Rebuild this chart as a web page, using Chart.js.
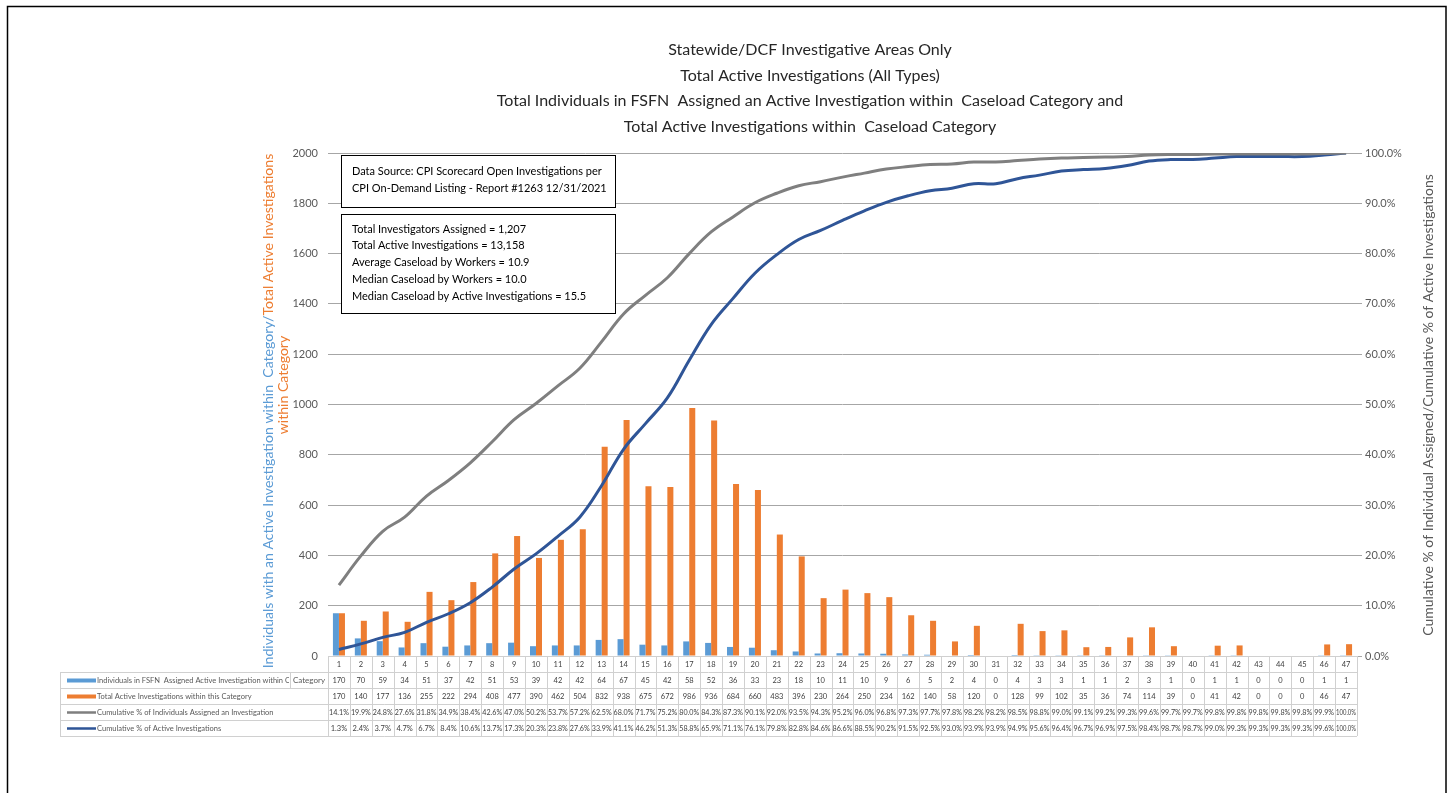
<!DOCTYPE html>
<html>
<head>
<meta charset="utf-8">
<script src="https://cdn.jsdelivr.net/npm/chart.js@4"></script>
<style>
  html, body { margin: 0; padding: 0; background: #fff; }
  #wrap { width: 1450px; height: 793px; }
</style>
</head>
<body>
<div id="wrap"><canvas id="caseChart" width="1450" height="793"></canvas></div>
<script>
const categories = [1,2,3,4,5,6,7,8,9,10,11,12,13,14,15,16,17,18,19,20,21,22,23,24,25,26,27,28,29,30,31,32,33,34,35,36,37,38,39,40,41,42,43,44,45,46,47];
const individuals = [170,70,59,34,51,37,42,51,53,39,42,42,64,67,45,42,58,52,36,33,23,18,10,11,10,9,6,5,2,4,0,4,3,3,1,1,2,3,1,0,1,1,0,0,0,1,1];
const totalInvestigations = [170,140,177,136,255,222,294,408,477,390,462,504,832,938,675,672,986,936,684,660,483,396,230,264,250,234,162,140,58,120,0,128,99,102,35,36,74,114,39,0,41,42,0,0,0,46,47];
const cumPctIndividuals = [14.1,19.9,24.8,27.6,31.8,34.9,38.4,42.6,47.0,50.2,53.7,57.2,62.5,68.0,71.7,75.2,80.0,84.3,87.3,90.1,92.0,93.5,94.3,95.2,96.0,96.8,97.3,97.7,97.8,98.2,98.2,98.5,98.8,99.0,99.1,99.2,99.3,99.6,99.7,99.7,99.8,99.8,99.8,99.8,99.8,99.9,100.0];
const cumPctInvestigations = [1.3,2.4,3.7,4.7,6.7,8.4,10.6,13.7,17.3,20.3,23.8,27.6,33.9,41.1,46.2,51.3,58.8,65.9,71.1,76.1,79.8,82.8,84.6,86.6,88.5,90.2,91.5,92.5,93.0,93.9,93.9,94.9,95.6,96.4,96.7,96.9,97.5,98.4,98.7,98.7,99.0,99.3,99.3,99.3,99.3,99.6,100.0];

const titleLines = [
  'Statewide/DCF Investigative Areas Only',
  'Total Active Investigations (All Types)',
  'Total Individuals in FSFN  Assigned an Active Investigation within  Caseload Category and',
  'Total Active Investigations within  Caseload Category'
];
const sourceNote = ['Data Source: CPI Scorecard Open Investigations per', 'CPI On-Demand Listing - Report #1263 12/31/2021'];
const summaryNote = [
  'Total Investigators Assigned = 1,207',
  'Total Active Investigations = 13,158',
  'Average Caseload by Workers = 10.9',
  'Median Caseload by Workers = 10.0',
  'Median Caseload by Active Investigations = 15.5'
];

const FONT = 'Lato, "Noto Sans", sans-serif';
const BLUE = '#5b9bd5', ORANGE = '#ed7d31', GRAY = '#7f7f7f', NAVY = '#2f5597';

// font size that makes text fill a given width
function fitSize(ctx, text, width) {
    ctx.font = '100px ' + FONT;
    return 100 * width / ctx.measureText(text).width;
}

// --- OVERLAY: titles, axis titles, note boxes, data table, frame ---
const overlay = {
    id: 'overlay',
    afterDraw(chart) {
        const ctx = chart.ctx;
        const area = chart.chartArea;
        const xs = chart.scales.x;
        ctx.save();

        // title
        const tSize = fitSize(ctx, titleLines[2], 627);
        ctx.font = tSize + 'px ' + FONT;
        ctx.fillStyle = '#262626';
        ctx.textAlign = 'center';
        ctx.textBaseline = 'middle';
        [50, 76, 101, 127].forEach((y, i) => ctx.fillText(titleLines[i], 810, y));

        // left axis title (two colours)
        const partA = 'Individuals with an Active Investigation within  Category/';
        const partB = 'Total Active Investigations';
        const lSize = fitSize(ctx, partA + partB, 515);
        ctx.save();
        ctx.translate(268, 411);
        ctx.rotate(-Math.PI / 2);
        ctx.font = lSize + 'px ' + FONT;
        const wA = ctx.measureText(partA).width, wB = ctx.measureText(partB).width;
        ctx.textAlign = 'left';
        ctx.fillStyle = BLUE;
        ctx.fillText(partA, -(wA + wB) / 2, 0);
        ctx.fillStyle = ORANGE;
        ctx.fillText(partB, -(wA + wB) / 2 + wA, 0);
        ctx.textAlign = 'center';
        ctx.fillText('within Category', 26, 15);
        ctx.restore();

        // right axis title
        const rText = 'Cumulative % of Individual Assigned/Cumulative % of Active Investigations';
        ctx.save();
        ctx.translate(1428, 405);
        ctx.rotate(-Math.PI / 2);
        ctx.font = fitSize(ctx, rText, 462) + 'px ' + FONT;
        ctx.fillStyle = '#595959';
        ctx.textAlign = 'center';
        ctx.fillText(rText, 0, 0);
        ctx.restore();

        // note boxes
        const nSize = fitSize(ctx, sourceNote[0], 250);
        function box(x, y, w, h, lines, firstY, step) {
            ctx.fillStyle = '#fff';
            ctx.fillRect(x, y, w, h);
            ctx.strokeStyle = '#000';
            ctx.lineWidth = 1;
            ctx.strokeRect(x + 0.5, y + 0.5, w, h);
            ctx.font = nSize + 'px ' + FONT;
            ctx.fillStyle = '#000';
            ctx.textAlign = 'left';
            lines.forEach((t, i) => ctx.fillText(t, x + 11, firstY + i * step));
        }
        box(341, 155, 274, 52, sourceNote, 171, 17);
        box(341, 214, 274, 99, summaryNote, 229, 16.8);

        // data table
        const rowH = 16;
        const top = area.bottom;
        const cw = (area.right - area.left) / categories.length;
        const legLeft = 60, catSplit = 290;
        ctx.strokeStyle = '#d0d0d0';
        ctx.lineWidth = 1;
        ctx.beginPath();
        ctx.moveTo(area.left, top + 0.5); ctx.lineTo(area.right, top + 0.5);
        for (let r = 1; r <= 5; r++) {
            ctx.moveTo(legLeft, top + r * rowH + 0.5);
            ctx.lineTo(area.right, top + r * rowH + 0.5);
        }
        for (let i = 0; i <= categories.length; i++) {
            const x = Math.round(area.left + i * cw) + 0.5;
            ctx.moveTo(x, top); ctx.lineTo(x, top + 5 * rowH);
        }
        ctx.moveTo(legLeft + 0.5, top + rowH); ctx.lineTo(legLeft + 0.5, top + 5 * rowH);
        ctx.moveTo(catSplit + 0.5, top + rowH); ctx.lineTo(catSplit + 0.5, top + 2 * rowH);
        ctx.stroke();

        const rows = [
            categories.map(String),
            individuals.map(String),
            totalInvestigations.map(String),
            cumPctIndividuals.map(v => v.toFixed(1) + '%'),
            cumPctInvestigations.map(v => v.toFixed(1) + '%')
        ];
        ctx.fillStyle = '#404040';
        ctx.textAlign = 'center';
        ctx.textBaseline = 'middle';
        ctx.font = '7.5px ' + FONT;
        rows.forEach((row, r) => {
            row.forEach((t, i) => {
                ctx.fillText(t, xs.getPixelForValue(i), top + r * rowH + rowH / 2 + 0.5, cw - 2);
            });
        });

        // legend cells
        const legend = [
            {text: 'Individuals in FSFN  Assigned Active Investigation within Category', color: BLUE, bar: true, right: catSplit},
            {text: 'Total Active Investigations within this Category', color: ORANGE, bar: true, right: area.left},
            {text: 'Cumulative % of Individuals Assigned an Investigation', color: GRAY, bar: false, right: area.left},
            {text: 'Cumulative % of Active Investigations', color: NAVY, bar: false, right: area.left}
        ];
        legend.forEach((lg, i) => {
            const cy = top + (i + 1) * rowH + rowH / 2 + 0.5;
            ctx.fillStyle = lg.color;
            if (lg.bar) ctx.fillRect(67, cy - 2, 29, 4);
            else ctx.fillRect(67, cy - 1.25, 29, 2.5);
            ctx.save();
            ctx.beginPath();
            ctx.rect(96, cy - 8, lg.right - 97, 16);
            ctx.clip();
            ctx.fillStyle = '#595959';
            ctx.textAlign = 'left';
            ctx.font = '7.5px ' + FONT;
            ctx.fillText(lg.text, 97, cy);
            ctx.restore();
        });
        ctx.fillStyle = '#595959';
        ctx.textAlign = 'center';
        ctx.font = '8px ' + FONT;
        ctx.fillText('Category', (catSplit + area.left) / 2, top + rowH * 1.5 + 0.5);

        // outer frame
        ctx.strokeStyle = '#000';
        ctx.lineWidth = 1.5;
        ctx.strokeRect(7.5, 6.5, 1438.5, 900);
        ctx.restore();
    }
};

const ctx = document.getElementById('caseChart').getContext('2d');
const caseChart = new Chart(ctx, {
    type: 'bar',
    data: {
        labels: categories,
        datasets: [{
            type: 'line',
            label: 'Cumulative % of Individuals Assigned an Investigation',
            data: cumPctIndividuals,
            yAxisID: 'y1',
            borderColor: GRAY,
            borderWidth: 3,
            pointRadius: 0,
            tension: 0.4,
            order: 0
        }, {
            type: 'line',
            label: 'Cumulative % of Active Investigations',
            data: cumPctInvestigations,
            yAxisID: 'y1',
            borderColor: NAVY,
            borderWidth: 3,
            pointRadius: 0,
            tension: 0.4,
            order: 0
        }, {
            label: 'Individuals in FSFN Assigned Active Investigation within Category',
            data: individuals,
            backgroundColor: BLUE,
            yAxisID: 'y',
            categoryPercentage: 0.55,
            barPercentage: 1.0,
            order: 1
        }, {
            label: 'Total Active Investigations within this Category',
            data: totalInvestigations,
            backgroundColor: ORANGE,
            yAxisID: 'y',
            categoryPercentage: 0.55,
            barPercentage: 1.0,
            order: 1
        }]
    },
    options: {
        responsive: false,
        animation: false,
        devicePixelRatio: 1,
        layout: { padding: { top: 153, left: 0, right: 0, bottom: 0 } },
        plugins: {
            legend: { display: false },
            title: { display: false },
            tooltip: { enabled: false }
        },
        scales: {
            x: {
                grid: { display: false, drawTicks: false },
                ticks: { display: false },
                border: { display: false },
                afterFit(s) { s.height = 137; }
            },
            y: {
                position: 'left',
                min: 0,
                max: 2000,
                ticks: { stepSize: 200, color: '#595959', padding: 10, font: { family: FONT, size: 11 }, callback: v => String(v) },
                grid: { color: '#a6a6a6', drawTicks: false },
                border: { display: false },
                afterFit(s) { s.width = 328; }
            },
            y1: {
                position: 'right',
                min: 0,
                max: 100,
                ticks: {
                    stepSize: 10,
                    color: '#595959',
                    padding: 3,
                    font: { family: FONT, size: 11 },
                    callback: v => v.toFixed(1) + '%'
                },
                grid: { drawOnChartArea: false, tickLength: 5, color: '#a6a6a6' },
                border: { display: false },
                afterFit(s) { s.width = 93; }
            }
        }
    },
    plugins: [overlay]
});
</script>
</body>
</html>
